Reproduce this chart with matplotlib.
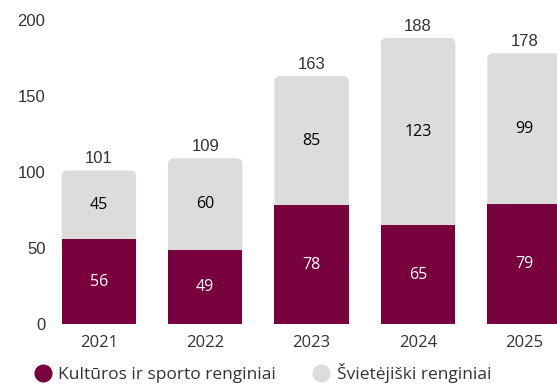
import matplotlib
matplotlib.use("Agg")
import matplotlib.pyplot as plt
from matplotlib.patches import FancyBboxPatch
from matplotlib.lines import Line2D

years = ["2021", "2022", "2023", "2024", "2025"]
culture_sport = [56, 49, 78, 65, 79]
educational = [45, 60, 85, 123, 99]
totals = [101, 109, 163, 188, 178]
series_names = ["Kultūros ir sporto renginiai", "Švietėjiški renginiai"]

MAROON = "#78003c"
GREY = "#dcdcdc"
TXT = "#333333"
GEO = "Open Sans"

fig = plt.figure(figsize=(5.57, 3.85), dpi=100)
ax = fig.add_axes([0.099, 0.158, 0.901, 0.842])

x = list(range(len(years)))
w = 0.70
ax.set_xlim(-0.41, 4.305)
ax.set_ylim(0, 213)

grey_bars = ax.bar(x, educational, width=w, bottom=culture_sport, color=GREY)
aspect = 71.0
for b in grey_bars:
    bx, by, bw, bh = b.get_x(), b.get_y(), b.get_width(), b.get_height()
    b.set_visible(False)
    p = FancyBboxPatch((bx, by - 10), bw, bh + 10,
                       boxstyle="round,pad=0,rounding_size=0.055",
                       mutation_aspect=aspect, facecolor=GREY,
                       edgecolor="none", zorder=1)
    ax.add_patch(p)

maroon_bars = ax.bar(x, culture_sport, width=w, color=MAROON, zorder=2)

for i in x:
    ax.text(i, culture_sport[i] / 2, str(culture_sport[i]), ha="center", va="center",
            color="white", fontsize=11.5, family=GEO, zorder=3)
    ax.text(i, culture_sport[i] + educational[i] / 2, str(educational[i]), ha="center",
            va="center", color="black", fontsize=11.5, family=GEO, zorder=3)
    ax.annotate(str(totals[i]), (i, totals[i]), xytext=(0, 3), textcoords="offset points",
                ha="center", va="bottom", color=TXT, fontsize=12,
                family="Liberation Sans")

ax.set_xticks(x)
ax.set_xticklabels(years, family=GEO, fontsize=12, color=TXT)
ax.set_yticks([0, 50, 100, 150, 200])
ax.set_yticklabels(["0", "50", "100", "150", "200"], family="Liberation Sans",
                   fontsize=12, color=TXT)
ax.tick_params(length=0)
ax.tick_params(axis="y", pad=7)
ax.tick_params(axis="x", pad=8)
for s in ax.spines.values():
    s.set_visible(False)

handles = [Line2D([], [], marker="o", linestyle="none", markersize=12,
                  markerfacecolor=c, markeredgecolor=c) for c in (MAROON, GREY)]
fig.legend(handles, series_names, loc="lower left", bbox_to_anchor=(0.03, -0.035),
           ncol=2, frameon=False, prop={"family": GEO, "size": 12.5},
           handletextpad=0.3, columnspacing=2.0, handlelength=1.2, labelcolor=TXT)

fig.savefig("out.png", dpi=100)
